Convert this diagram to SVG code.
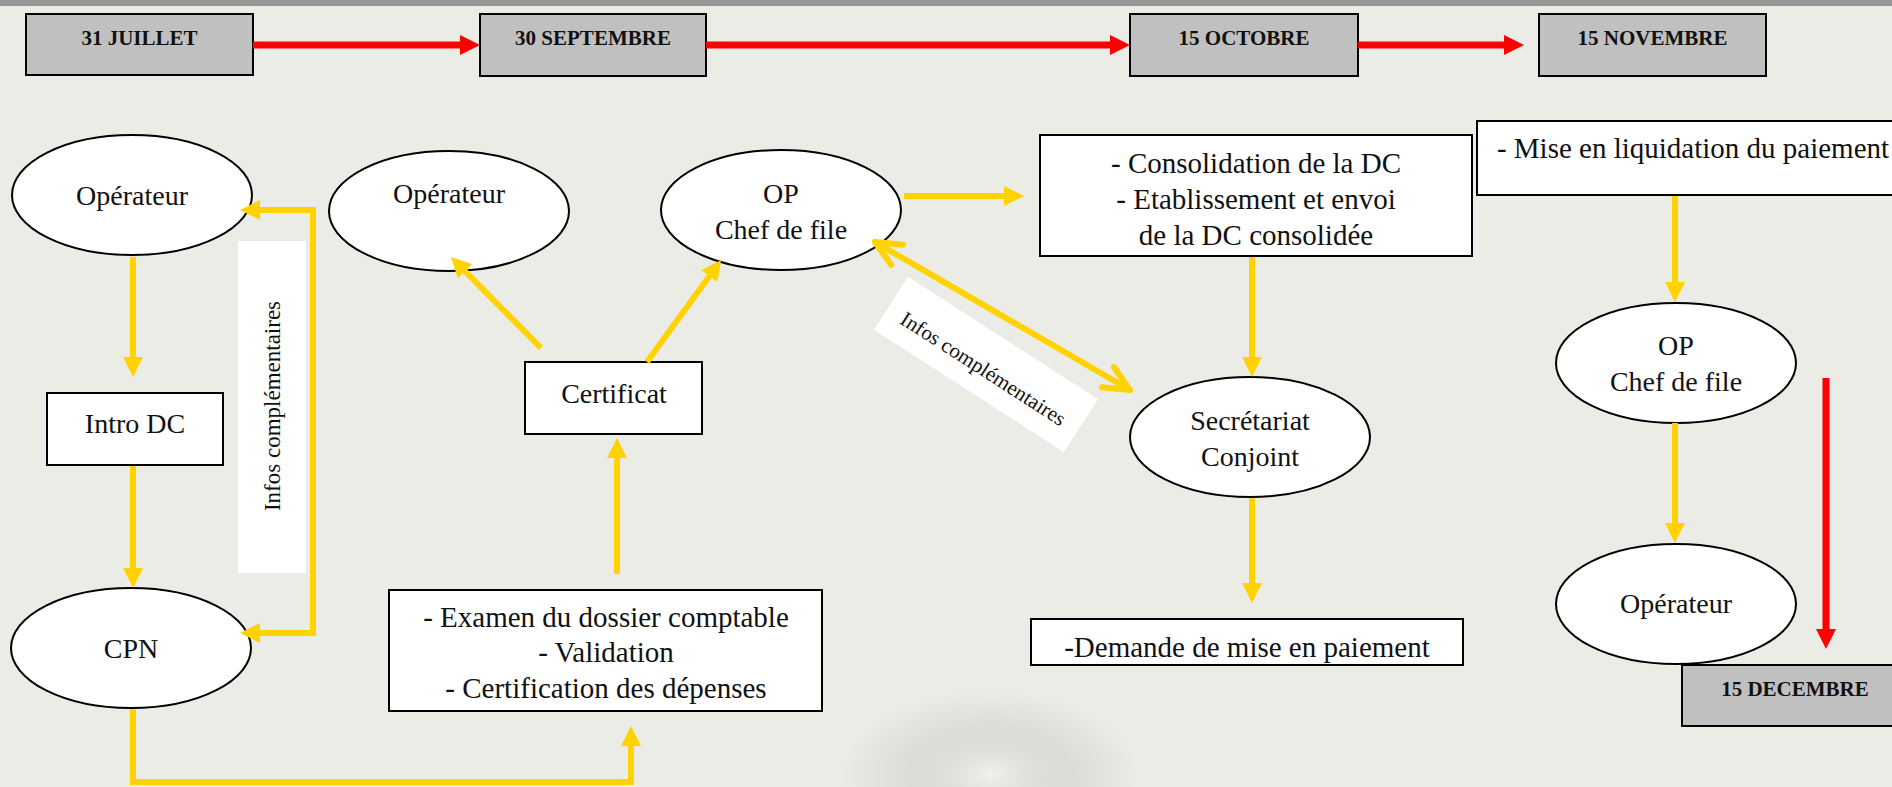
<svg xmlns="http://www.w3.org/2000/svg" width="1892" height="787" viewBox="0 0 1892 787">
<style>
.date rect{fill:#C0C0C0;stroke:#000;stroke-width:2}
.date text{font-family:"Liberation Serif",serif;font-weight:bold;font-size:21px;text-anchor:middle;fill:#111}
.node ellipse,.node rect{fill:#fff;stroke:#000;stroke-width:2}
.node text{font-family:"Liberation Serif",serif;font-size:28px;text-anchor:middle;fill:#111}
.box text{font-size:29px}
.lbl text{font-family:"Liberation Serif",serif;text-anchor:middle;fill:#111}
.y{fill:none;stroke:#FFD200;stroke-width:6}
.r{fill:none;stroke:#FF0000;stroke-width:7}
</style>
<defs>
<marker id="ya" markerUnits="userSpaceOnUse" markerWidth="20" markerHeight="20" refX="8" refY="10" orient="auto-start-reverse"><path d="M0,0 L20,10 L0,20 z" fill="#FFD200"/></marker>
<marker id="ra" markerUnits="userSpaceOnUse" markerWidth="20" markerHeight="20" refX="8" refY="10" orient="auto"><path d="M0,0 L20,10 L0,20 z" fill="#FF0000"/></marker>
<marker id="yc" markerUnits="userSpaceOnUse" markerWidth="1" markerHeight="1" refX="0" refY="0" orient="auto-start-reverse" style="overflow:visible"><path d="M-25.5,-11.7 L0,0 L-25.5,11.7" fill="none" stroke="#FFD200" stroke-width="6" stroke-linecap="round" stroke-linejoin="round"/></marker>
<radialGradient id="blob" cx="0.5" cy="0.5" r="0.5"><stop offset="0" stop-color="#f4f4f0" stop-opacity="0.7"/><stop offset="0.55" stop-color="#b8b8b3" stop-opacity="0.3"/><stop offset="1" stop-color="#b8b8b3" stop-opacity="0"/></radialGradient>
</defs>
<rect x="0" y="0" width="1892" height="787" fill="#EBECE6"/>
<rect x="0" y="0" width="1892" height="6" fill="#979797"/>
<ellipse cx="990" cy="775" rx="150" ry="85" fill="url(#blob)"/>

<g id="d-31juillet" class="date"><rect x="26" y="14" width="227" height="61"/><text x="139.5" y="45">31 JUILLET</text></g>
<g id="d-30septembre" class="date"><rect x="480" y="14" width="226" height="62"/><text x="593" y="45">30 SEPTEMBRE</text></g>
<g id="d-15octobre" class="date"><rect x="1130" y="14" width="228" height="62"/><text x="1244" y="45">15 OCTOBRE</text></g>
<g id="d-15novembre" class="date"><rect x="1539" y="14" width="227" height="62"/><text x="1652.5" y="45">15 NOVEMBRE</text></g>
<g id="d-15decembre" class="date"><rect x="1682" y="665" width="230" height="61"/><text x="1795" y="696">15 DECEMBRE</text></g>

<g id="lbl-infos-v" class="lbl"><rect x="238" y="241" width="68" height="332" fill="#fff"/><text x="280" y="406" font-size="23" transform="rotate(-90 280 406)">Infos complémentaires</text></g>
<g id="lbl-infos-d" class="lbl" transform="translate(986 364.5) rotate(32.8)"><rect x="-113" y="-31.5" width="226" height="63" fill="#fff"/><text x="0" y="12" font-size="21">Infos complémentaires</text></g>

<g id="n-operateur1" class="node"><ellipse cx="132" cy="195" rx="120" ry="60"/><text x="132" y="205">Opérateur</text></g>
<g id="n-introdc" class="node"><rect x="47" y="393" width="176" height="72"/><text x="135" y="433" font-size="32">Intro DC</text></g>
<g id="n-cpn" class="node"><ellipse cx="131" cy="648" rx="120" ry="60"/><text x="131" y="658">CPN</text></g>
<g id="n-operateur2" class="node"><ellipse cx="449" cy="211" rx="120" ry="60"/><text x="449" y="203">Opérateur</text></g>
<g id="n-opchef1" class="node"><ellipse cx="781" cy="210" rx="120" ry="60"/><text x="781" y="203">OP</text><text x="781" y="239">Chef de file</text></g>
<g id="n-certificat" class="node"><rect x="525" y="362" width="177" height="72"/><text x="614" y="403" font-size="30">Certificat</text></g>
<g id="n-examen" class="node box"><rect x="389" y="590" width="433" height="121"/><text x="606" y="627">- Examen du dossier comptable</text><text x="606" y="662">- Validation</text><text x="606" y="698">- Certification des dépenses</text></g>
<g id="n-consolidation" class="node box"><rect x="1040" y="135" width="432" height="121"/><text x="1256" y="173">- Consolidation de la DC</text><text x="1256" y="209">- Etablissement et envoi</text><text x="1256" y="245">de la DC consolidée</text></g>
<g id="n-secretariat" class="node"><ellipse cx="1250" cy="437" rx="120" ry="60"/><text x="1250" y="430">Secrétariat</text><text x="1250" y="466">Conjoint</text></g>
<g id="n-demande" class="node box"><rect x="1031" y="619" width="432" height="46"/><text x="1247" y="657">-Demande de mise en paiement</text></g>
<g id="n-liquidation" class="node box"><rect x="1477" y="121" width="433" height="74"/><text x="1693" y="158">- Mise en liquidation du paiement</text></g>
<g id="n-opchef2" class="node"><ellipse cx="1676" cy="363" rx="120" ry="60"/><text x="1676" y="355">OP</text><text x="1676" y="391">Chef de file</text></g>
<g id="n-operateur3" class="node"><ellipse cx="1676" cy="604" rx="120" ry="60"/><text x="1676" y="613">Opérateur</text></g>

<g id="connectors">
<path class="y" d="M133,257 L133,365" marker-end="url(#ya)"/>
<path class="y" d="M133,466 L133,576" marker-end="url(#ya)"/>
<path class="y" d="M252,210 L313,210 L313,633 L252,633" marker-start="url(#ya)" marker-end="url(#ya)"/>
<path class="y" d="M133,709 L133,782 L631,782 L631,738" marker-end="url(#ya)"/>
<path class="y" d="M617,574 L617,450" marker-end="url(#ya)"/>
<path class="y" d="M541,348 L459.4,265.5" marker-end="url(#ya)"/>
<path class="y" d="M647,362 L714,269.7" marker-end="url(#ya)"/>
<path class="y" d="M904,196 L1012,196" marker-end="url(#ya)"/>
<path class="y" d="M1252,257 L1252,365" marker-end="url(#ya)"/>
<path class="y" d="M1252,498 L1252,591" marker-end="url(#ya)"/>
<path class="y" d="M1675,196 L1675,290" marker-end="url(#ya)"/>
<path class="y" d="M1675,423 L1675,531" marker-end="url(#ya)"/>
<path class="y" d="M875,242 L1130,390" stroke-linecap="round" marker-start="url(#yc)" marker-end="url(#yc)"/>
<path class="r" d="M253,45 L468,45" marker-end="url(#ra)"/>
<path class="r" d="M706,45 L1118,45" marker-end="url(#ra)"/>
<path class="r" d="M1358,45 L1512,45" marker-end="url(#ra)"/>
<path class="r" d="M1826,378 L1826,637" marker-end="url(#ra)"/>
</g>
</svg>
